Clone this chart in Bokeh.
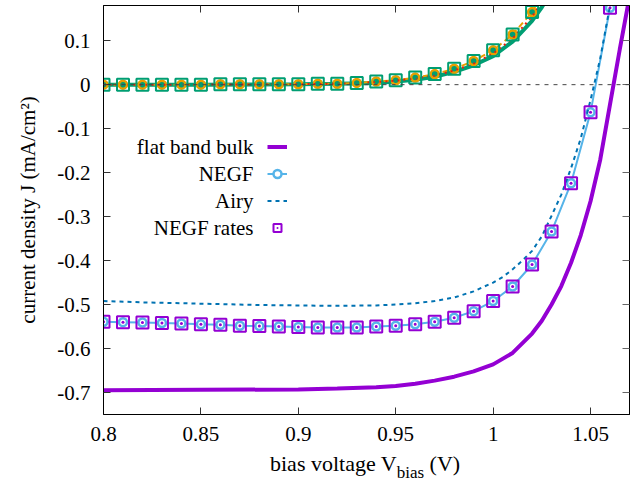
from bokeh.plotting import figure
from bokeh.models import (Range1d, FixedTicker, NumeralTickFormatter, LinearAxis,
                          Span, Legend, LegendItem, Label, Div)
from bokeh.layouts import column
from bokeh.core.properties import value
from bokeh.embed import file_html
from bokeh.resources import INLINE

# ---------------- data ----------------
x_ticks = [0.8, 0.85, 0.9, 0.95, 1.0, 1.05]
y_ticks = [-0.7, -0.6, -0.5, -0.4, -0.3, -0.2, -0.1, 0.0, 0.1]

# NEGF / NEGF rates sampling voltages
v_negf = [0.80, 0.81, 0.82, 0.83, 0.84, 0.85, 0.86, 0.87, 0.88, 0.89, 0.90, 0.91, 0.92,
          0.93, 0.94, 0.95, 0.96, 0.97, 0.98, 0.99, 1.00, 1.01, 1.02, 1.03, 1.04, 1.05, 1.06]
negf = [-0.539, -0.540, -0.541, -0.542, -0.543, -0.545, -0.546, -0.548, -0.549, -0.550,
        -0.551, -0.552, -0.552, -0.552, -0.550, -0.548, -0.545, -0.539, -0.530, -0.515,
        -0.492, -0.459, -0.409, -0.334, -0.224, -0.063, 0.175]
negf_rates = [-0.539, -0.540, -0.541, -0.542, -0.543, -0.545, -0.546, -0.548, -0.549, -0.550,
              -0.551, -0.552, -0.552, -0.552, -0.550, -0.548, -0.545, -0.539, -0.530, -0.515,
              -0.492, -0.459, -0.409, -0.334, -0.224, -0.063, 0.175]

v_fb = [0.80, 0.85, 0.90, 0.92, 0.94, 0.95, 0.96, 0.97, 0.98, 0.99, 1.00, 1.01, 1.02,
        1.025, 1.03, 1.035, 1.04, 1.045, 1.05, 1.055, 1.06, 1.065, 1.07]
flat_band = [-0.695, -0.694, -0.693, -0.691, -0.688, -0.685, -0.680, -0.673, -0.664, -0.652,
             -0.636, -0.610, -0.566, -0.537, -0.500, -0.458, -0.405, -0.342, -0.265, -0.170,
             -0.045, 0.080, 0.200]

v_airy = [0.80, 0.82, 0.84, 0.86, 0.88, 0.90, 0.92, 0.94, 0.95, 0.96, 0.97, 0.98, 0.99,
          1.00, 1.005, 1.01, 1.015, 1.02, 1.025, 1.03, 1.035, 1.04, 1.045, 1.05, 1.055, 1.06]
airy = [-0.492, -0.495, -0.497, -0.499, -0.501, -0.502, -0.503, -0.502, -0.500, -0.497,
        -0.492, -0.484, -0.470, -0.450, -0.437, -0.420, -0.400, -0.378, -0.345, -0.298,
        -0.250, -0.190, -0.122, -0.035, 0.060, 0.180]

# dark-current set (upper curves)
v_dark = [0.80, 0.81, 0.82, 0.83, 0.84, 0.85, 0.86, 0.87, 0.88, 0.89, 0.90, 0.91, 0.92,
          0.93, 0.94, 0.95, 0.96, 0.97, 0.98, 0.99, 1.00, 1.01, 1.02, 1.03]
negf_dark = [0.000, 0.000, 0.000, 0.000, 0.000, 0.000, 0.001, 0.001, 0.001, 0.001, 0.001,
             0.002, 0.002, 0.004, 0.007, 0.010, 0.016, 0.024, 0.036, 0.054, 0.078, 0.114,
             0.165, 0.235]
negf_rates_dark = [0.000, 0.000, 0.000, 0.000, 0.000, 0.000, 0.001, 0.001, 0.001, 0.001, 0.001,
                   0.002, 0.002, 0.004, 0.007, 0.010, 0.016, 0.024, 0.036, 0.054, 0.078, 0.114,
                   0.165, 0.235]
v_dark_c = [0.80, 0.85, 0.90, 0.92, 0.94, 0.95, 0.96, 0.97, 0.98, 0.99, 1.00, 1.01, 1.02,
            1.025, 1.03]
flat_band_dark = [0.000, 0.000, 0.001, 0.002, 0.004, 0.007, 0.011, 0.018, 0.029, 0.044,
                  0.065, 0.098, 0.145, 0.176, 0.212]
airy_dark = [0.000, 0.000, 0.001, 0.002, 0.006, 0.009, 0.014, 0.021, 0.032, 0.048,
             0.071, 0.105, 0.155, 0.188, 0.225]

legend_labels = ["flat band bulk", "NEGF", "Airy", "NEGF rates"]
x_label_parts = ["bias voltage V", "bias", "(V)"]
y_label = "current density J (mA/cm\u00b2)"

# ---------------- styling ----------------
FONT = "Liberation Serif, DejaVu Serif, Noto Serif, Times, serif"
FS = "21px"
PURPLE = "#9400D3"
GREEN = "#009E73"
LBLUE = "#56B4E9"
ORANGE = "#E69F00"
DBLUE = "#0072B2"
RED = "#E51E10"

FRAME_H = 409

p = figure(width=640, height=452, x_range=Range1d(0.8, 1.07), y_range=Range1d(-0.75, 0.18),
           output_backend="svg", toolbar_location=None,
           min_border_left=103, min_border_right=11, min_border_top=5, min_border_bottom=38)
p.grid.visible = False
p.outline_line_color = "black"
p.outline_line_width = 1
p.background_fill_color = "white"
p.border_fill_color = "white"

p.xaxis.ticker = FixedTicker(ticks=x_ticks)
p.yaxis.ticker = FixedTicker(ticks=y_ticks)
p.xaxis.formatter = NumeralTickFormatter(format="0.[00]")
p.yaxis.formatter = NumeralTickFormatter(format="0.[00]")

for ax in (p.xaxis[0], p.yaxis[0]):
    ax.major_label_text_font = FONT
    ax.major_label_text_font_size = FS
    ax.major_label_text_color = "black"
    ax.major_tick_in = 7
    ax.major_tick_out = 0
    ax.major_tick_line_color = "#333333"
    ax.minor_tick_line_color = None
    ax.axis_line_color = "black"
p.xaxis.major_label_standoff = 12
p.yaxis.major_label_standoff = 13

p.yaxis.axis_label = y_label
p.yaxis.axis_label_text_font = FONT
p.yaxis.axis_label_text_font_size = FS
p.yaxis.axis_label_text_font_style = "normal"
p.yaxis.axis_label_text_color = "black"
p.yaxis.axis_label_standoff = 14

# mirrored ticks on top and right (no labels drawn)
top = LinearAxis(ticker=FixedTicker(ticks=x_ticks), major_label_text_font_size="1px",
                 major_label_text_color=None, major_label_standoff=0,
                 major_tick_in=7, major_tick_out=0,
                 major_tick_line_color="#333333", minor_tick_line_color=None,
                 axis_line_color="black")
right = LinearAxis(ticker=FixedTicker(ticks=y_ticks), major_label_text_font_size="1px",
                   major_label_text_color=None, major_label_standoff=0,
                   major_tick_in=7, major_tick_out=0,
                   major_tick_line_color="#666666", minor_tick_line_color=None,
                   axis_line_color="black")
p.add_layout(top, "above")
p.add_layout(right, "right")

# zero line
p.add_layout(Span(location=0, dimension="width", line_color="#444444", line_width=1,
                  line_dash="4 5"))

# ---------------- curves ----------------
r_fb = p.line(v_fb, flat_band, line_color=PURPLE, line_width=4)
r_negf_l = p.line(v_negf, negf, line_color=LBLUE, line_width=2)
r_negf_c = p.scatter(v_negf, negf, marker="circle", size=8, line_color=LBLUE,
                     line_width=2.5, fill_color="white")
r_airy = p.line(v_airy, airy, line_color=DBLUE, line_width=2, line_dash="4 4")
r_rates = p.scatter(v_negf, negf_rates, marker="square_dot", size=12, line_color=PURPLE,
                    line_width=2, fill_color=None)

p.line(v_dark_c, flat_band_dark, line_color=GREEN, line_width=4)
p.line(v_dark, negf_dark, line_color=ORANGE, line_width=2, line_dash="6 4")
p.scatter(v_dark, negf_dark, marker="circle", size=8, line_color=ORANGE, line_width=2.5,
          fill_color=GREEN)
p.line(v_dark_c, airy_dark, line_color=RED, line_width=2, line_dash="2 4")
p.scatter(v_dark, negf_rates_dark, marker="square_dot", size=12, line_color=GREEN,
          line_width=2, fill_color=None)

# ---------------- legend (gnuplot style: text left, sample right) ----------------
LEG_TOP = 128      # px below frame top
ITEM_H = 27
leg = Legend(items=[LegendItem(label=value(" "), renderers=[r_fb]),
                    LegendItem(label=value(" "), renderers=[r_negf_l, r_negf_c]),
                    LegendItem(label=value(" "), renderers=[r_airy]),
                    LegendItem(label=value(" "), renderers=[r_rates])],
             location=(164, FRAME_H - LEG_TOP - ITEM_H * 4),
             background_fill_alpha=0, border_line_alpha=0, padding=0, margin=0, spacing=0,
             glyph_width=20, glyph_height=ITEM_H, label_height=ITEM_H, label_width=0,
             label_standoff=0, label_text_font_size="1px", label_text_color=None)
p.add_layout(leg)

for i, txt in enumerate(legend_labels):
    p.add_layout(Label(x=150, y=FRAME_H - LEG_TOP - ITEM_H * i - ITEM_H / 2,
                       x_units="screen", y_units="screen", text=txt,
                       text_font=FONT, text_font_size=FS, text_align="right",
                       text_baseline="middle", text_color="black"))

# ---------------- x axis label with subscript (HTML below the figure) ----------------
xlabel_html = (
    '<div style="position:relative;width:640px;height:32px;'
    f"font-family:{FONT};font-size:22px;color:#000;"
    'white-space:nowrap;">'
    '<span style="position:absolute;left:270px;top:1px;line-height:1;">'
    f'{x_label_parts[0]}<span style="font-size:17px;position:relative;top:7px;">'
    f'{x_label_parts[1]}</span> {x_label_parts[2]}</span></div>'
)
xlabel = Div(text=xlabel_html, width=640, height=32, margin=0)

layout = column(p, xlabel, spacing=0)
open("out.html", "w").write(file_html(layout, INLINE))
